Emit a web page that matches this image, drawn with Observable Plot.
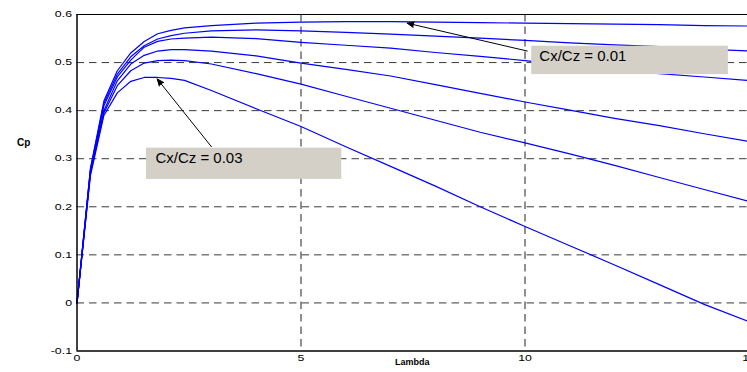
<!DOCTYPE html>
<html>
<head>
<meta charset="utf-8">
<script src="https://cdn.jsdelivr.net/npm/d3@7"></script>
<script src="https://cdn.jsdelivr.net/npm/@observablehq/plot@0.6"></script>
<style>
  html, body { margin: 0; padding: 0; background: #fff; overflow: hidden; }
  #chart svg { display: block; overflow: hidden; }
</style>
</head>
<body>
<div id="chart"></div>
<script>
// ---- data ----
const lambda = [0, 0.3, 0.6, 0.9, 1.2, 1.5, 1.8, 2.1, 2.4, 3, 4, 5, 6, 7, 8, 9, 10, 11, 12, 13, 14, 15];
const ratios = ["0.01", "0.014", "0.018", "0.022", "0.026", "0.03"];
const cp001 = [0, 0.28, 0.42, 0.483, 0.52, 0.544, 0.56, 0.567, 0.572, 0.577, 0.582, 0.584, 0.585, 0.585, 0.584, 0.583, 0.582, 0.581, 0.58, 0.579, 0.577, 0.576];
const cp014 = [0, 0.278, 0.415, 0.476, 0.512, 0.535, 0.549, 0.556, 0.561, 0.566, 0.568, 0.566, 0.563, 0.559, 0.555, 0.551, 0.546, 0.541, 0.537, 0.533, 0.528, 0.524];
const cp018 = [0, 0.275, 0.41, 0.47, 0.505, 0.532, 0.544, 0.549, 0.551, 0.553, 0.55, 0.542, 0.536, 0.53, 0.521, 0.513, 0.504, 0.494, 0.485, 0.477, 0.47, 0.4625];
const cp022 = [0, 0.272, 0.40, 0.462, 0.497, 0.515, 0.524, 0.527, 0.527, 0.524, 0.514, 0.499, 0.486, 0.472, 0.454, 0.436, 0.418, 0.401, 0.384, 0.369, 0.352, 0.336];
const cp026 = [0, 0.27, 0.395, 0.452, 0.483, 0.499, 0.504, 0.505, 0.504, 0.497, 0.477, 0.455, 0.43, 0.405, 0.38, 0.355, 0.333, 0.31, 0.286, 0.261, 0.236, 0.211];
const cp030 = [0, 0.265, 0.39, 0.437, 0.461, 0.469, 0.469, 0.467, 0.463, 0.442, 0.404, 0.367, 0.325, 0.284, 0.243, 0.2, 0.159, 0.119, 0.079, 0.038, -0.003, -0.039];
const xTicks = [0, 5, 10, 15];
const yTicks = [-0.1, 0, 0.1, 0.2, 0.3, 0.4, 0.5, 0.6];
const xGrid = [5, 10];
const yGrid = [0, 0.1, 0.2, 0.3, 0.4, 0.5];
const noteLabels = ["Cx/Cz = 0.01", "Cx/Cz = 0.03"];
const noteBoxX1 = [10.15, 1.55];
const noteBoxX2 = [14.54, 5.91];
const noteBoxY1 = [0.475, 0.257];
const noteBoxY2 = [0.534, 0.322];
const noteTextX = [10.32, 1.75];
const noteTextY = [0.513, 0.302];
const arrowFromX = [10.05, 3.0];
const arrowFromY = [0.524, 0.325];
const arrowToX = [7.37, 1.79];
const arrowToY = [0.582, 0.466];

// ---- build tables ----
const series = [cp001, cp014, cp018, cp022, cp026, cp030];
const rows = [];
series.forEach((vals, i) => vals.forEach((v, j) => rows.push({ratio: ratios[i], lambda: lambda[j], cp: v})));
const notes = noteLabels.map((label, i) => ({
  label, x1: noteBoxX1[i], x2: noteBoxX2[i], y1: noteBoxY1[i], y2: noteBoxY2[i],
  tx: noteTextX[i], ty: noteTextY[i],
  ax1: arrowFromX[i], ay1: arrowFromY[i], ax2: arrowToX[i], ay2: arrowToY[i]
}));

const fmt = d => d === 0 ? "0" : (Number.isInteger(d) ? String(d) : d.toFixed(1));
const tickFont = "Liberation Sans, Arial, sans-serif";

const chart = Plot.plot({
  width: 747,
  height: 372,
  marginLeft: 76.5,
  marginRight: 0,
  marginTop: 14,
  marginBottom: 21.5,
  style: {fontFamily: tickFont, fontSize: "8.5px", color: "#000", background: "#fff"},
  x: {domain: [0, 15], range: [76.5, 748.5]},
  y: {domain: [-0.1, 0.6], range: [350.5, 14]},
  marks: [
    Plot.ruleY(yGrid, {stroke: "#3a3a3a", strokeWidth: 1, strokeDasharray: "7.5,5"}),
    Plot.ruleX(xGrid, {stroke: "#555", strokeWidth: 1.3, strokeDasharray: "7.5,5"}),
    Plot.line(rows, {x: "lambda", y: "cp", z: "ratio", stroke: "#0000ff", strokeWidth: 1.2}),
    Plot.rect(notes, {x1: "x1", x2: "x2", y1: "y1", y2: "y2", fill: "#d4d0c8"}),
    Plot.text(notes, {x: "tx", y: "ty", text: "label", textAnchor: "start", fontSize: 15, fontFamily: "Liberation Sans, Arial, sans-serif", fill: "#000", ariaLabel: "note"}),
    Plot.arrow(notes, {x1: "ax1", y1: "ay1", x2: "ax2", y2: "ay2", stroke: "#000", strokeWidth: 1, headLength: 11, headAngle: 45, fill: "#000"}),
    Plot.ruleX([0], {stroke: "#000", strokeWidth: 1.5}),
    Plot.ruleY([-0.1], {stroke: "#000", strokeWidth: 1.5}),
    Plot.ruleY([0.6], {stroke: "#000", strokeWidth: 1.2}),
    Plot.axisY({ticks: yTicks, tickFormat: fmt, tickSize: 0, tickPadding: 5, label: null}),
    Plot.axisX({ticks: xTicks, tickFormat: fmt, tickSize: 0, tickPadding: 4, label: null}),
    Plot.text(["Cp"], {frameAnchor: "left", dx: -60, dy: -40, fontWeight: "bold", fontSize: 10, ariaLabel: "axlabel"}),
    Plot.text(["Lambda"], {frameAnchor: "bottom", dy: 14, fontWeight: "bold", fontSize: 9, ariaLabel: "axlabel"})
  ]
});

document.getElementById("chart").appendChild(chart);

// The reference is horizontally stretched: widen the glyphs to match.
function stretch(selector, k) {
  chart.querySelectorAll(selector).forEach(t => {
    const L = t.getComputedTextLength();
    if (L > 0) {
      t.setAttribute("textLength", (L * k).toFixed(2));
      t.setAttribute("lengthAdjust", "spacingAndGlyphs");
    }
  });
}
stretch('g[aria-label="note"] text', 1.38);
stretch('g[aria-label="y-axis tick label"] text, g[aria-label="x-axis tick label"] text', 1.45);
stretch('g[aria-label="axlabel"] text', 1.5);
</script>
</body>
</html>
